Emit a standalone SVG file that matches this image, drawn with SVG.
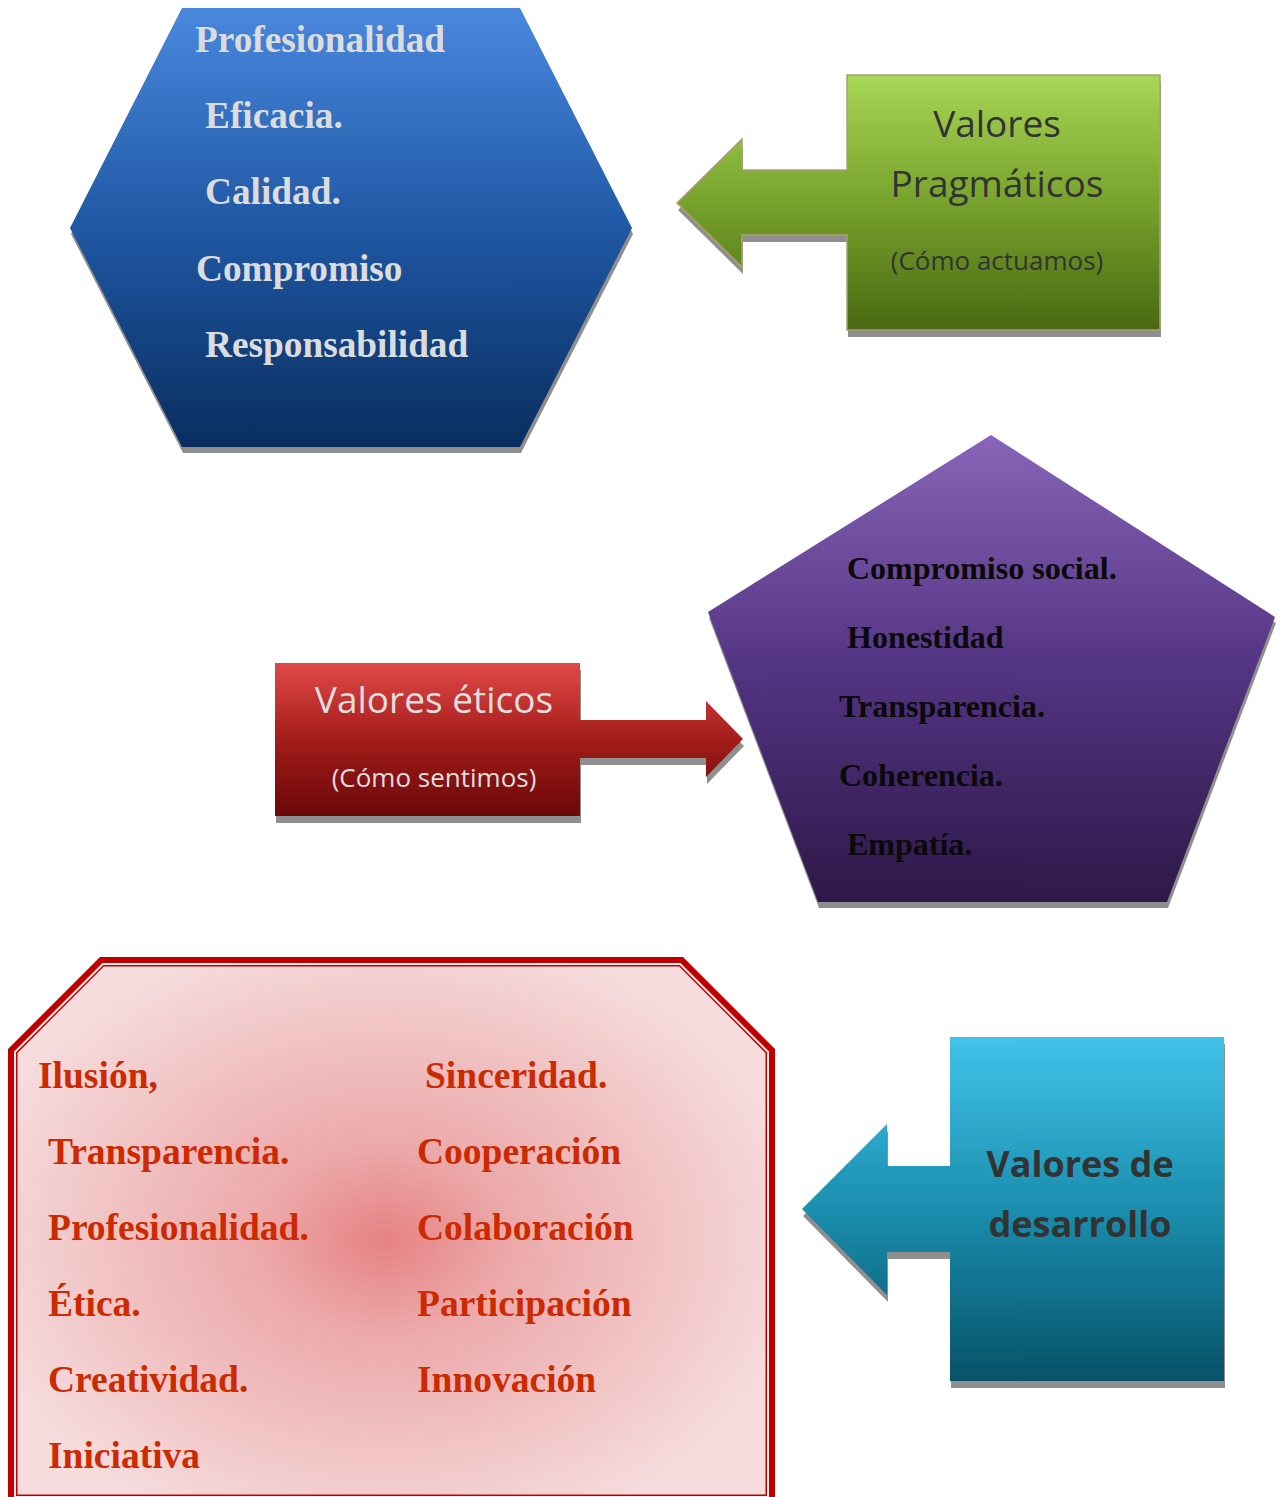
<svg xmlns="http://www.w3.org/2000/svg" xmlns:xlink="http://www.w3.org/1999/xlink" width="1282" height="1497" viewBox="0 0 1282 1497">
<style>
.shadow{fill:#8f8f8f}
.serif{font-family:"Liberation Serif","Times New Roman",serif;font-weight:bold}
.sans{font-family:"Open Sans","Liberation Sans",sans-serif}
.hex-t{fill:#dcdcdc;font-size:37.3px}
.pent-t{fill:#0a0a0a;font-size:32px}
.box-t{fill:#cc2a00;font-size:37.5px}
.dark-t{fill:#333333;text-anchor:middle}
.light-t{fill:#dedede;text-anchor:middle}
</style>
<defs>
<linearGradient id="gBlue" gradientUnits="userSpaceOnUse" x1="0" y1="8" x2="0" y2="447">
<stop offset="0" stop-color="#4a88de"/><stop offset="0.5" stop-color="#1f58a4"/><stop offset="1" stop-color="#0a2d5f"/>
</linearGradient>
<linearGradient id="gGreen" gradientUnits="userSpaceOnUse" x1="0" y1="75" x2="0" y2="330">
<stop offset="0" stop-color="#a8d655"/><stop offset="0.5" stop-color="#77a22c"/><stop offset="1" stop-color="#496912"/>
</linearGradient>
<linearGradient id="gRed" gradientUnits="userSpaceOnUse" x1="0" y1="663" x2="0" y2="816">
<stop offset="0" stop-color="#e04a48"/><stop offset="0.5" stop-color="#a41c1a"/><stop offset="1" stop-color="#6a0808"/>
</linearGradient>
<linearGradient id="gPurple" gradientUnits="userSpaceOnUse" x1="0" y1="435" x2="0" y2="902">
<stop offset="0" stop-color="#8865b8"/><stop offset="0.5" stop-color="#533482"/><stop offset="1" stop-color="#2e1848"/>
</linearGradient>
<linearGradient id="gCyan" gradientUnits="userSpaceOnUse" x1="0" y1="1037" x2="0" y2="1381">
<stop offset="0" stop-color="#42c3ea"/><stop offset="0.5" stop-color="#1a8eae"/><stop offset="1" stop-color="#075268"/>
</linearGradient>
<radialGradient id="gPink" gradientUnits="userSpaceOnUse" cx="385" cy="1240" r="420" gradientTransform="translate(385 1240) scale(1 0.75) translate(-385 -1240)">
<stop offset="0" stop-color="#e68283"/><stop offset="0.3" stop-color="#eca9aa"/><stop offset="0.75" stop-color="#f2c9ca"/><stop offset="1" stop-color="#f6dcdd"/>
</radialGradient>
<path id="hex" d="M182,8 H520 L632,228 L520,447 H182 L70,228 Z"/>
<path id="greenShape" d="M847,75 H1160 V330 H847 V235 H742 V267 L677,203 L742,139 V170 H847 Z"/>
<path id="redShape" d="M275,663 H580 V720 H706 V701 L743,739 L706,777 V758 H580 V816 H275 Z"/>
<path id="pent" d="M991,435 L1275,617 L1167,902 H818 L708,612 Z"/>
<path id="cyanShape" d="M950,1037 H1224 V1381 H950 V1252 H887 V1295 L802,1209 L887,1124 V1166 H950 Z"/>
</defs>

<g id="hexagon-pragmaticos">
<use xlink:href="#hex" href="#hex" class="shadow" transform="translate(1 6)"/>
<use xlink:href="#hex" href="#hex" fill="url(#gBlue)"/>
<text class="serif hex-t" x="195" y="52">Profesionalidad</text>
<text class="serif hex-t" x="205" y="128">Eficacia.</text>
<text class="serif hex-t" x="205" y="204">Calidad.</text>
<text class="serif hex-t" x="196" y="281">Compromiso</text>
<text class="serif hex-t" x="205" y="357">Responsabilidad</text>
</g>

<g id="valores-pragmaticos">
<use xlink:href="#greenShape" href="#greenShape" class="shadow" transform="translate(1 7)"/>
<use xlink:href="#greenShape" href="#greenShape" fill="url(#gGreen)" stroke="#b19d72" stroke-width="1.5"/>
<text class="sans dark-t" x="997" y="137" font-size="37">Valores</text>
<text class="sans dark-t" x="997" y="197" font-size="37">Pragmáticos</text>
<text class="sans dark-t" x="997" y="270" font-size="26">(Cómo actuamos)</text>
</g>

<g id="valores-eticos">
<use xlink:href="#redShape" href="#redShape" class="shadow" transform="translate(1 7)"/>
<use xlink:href="#redShape" href="#redShape" fill="url(#gRed)"/>
<text class="sans light-t" x="434" y="713" font-size="37">Valores éticos</text>
<text class="sans light-t" x="434" y="787" font-size="26">(Cómo sentimos)</text>
</g>

<g id="pentagono-eticos">
<use xlink:href="#pent" href="#pent" class="shadow" transform="translate(1 6)"/>
<use xlink:href="#pent" href="#pent" fill="url(#gPurple)"/>
<text class="serif pent-t" x="847" y="579">Compromiso social.</text>
<text class="serif pent-t" x="847" y="648">Honestidad</text>
<text class="serif pent-t" x="839" y="717">Transparencia.</text>
<text class="serif pent-t" x="839" y="786">Coherencia.</text>
<text class="serif pent-t" x="847" y="855">Empatía.</text>
</g>

<g id="caja-desarrollo">
<polygon points="100,957 683,957 775,1049 775,1510 8,1510 8,1049" fill="#c00000"/>
<polygon points="102.5,963 680.5,963 769,1051.5 769,1498 14,1498 14,1051.5" fill="#fbeeee"/>
<polygon points="103.3,965 679.7,965 767,1052.3 767,1496 16,1496 16,1052.3" fill="#c00000"/>
<polygon points="103.9,966.5 679.1,966.5 765.5,1052.9 765.5,1494.5 17.5,1494.5 17.5,1052.9" fill="url(#gPink)"/>
<text class="serif box-t" x="38" y="1088">Ilusión,</text>
<text class="serif box-t" x="48" y="1164">Transparencia.</text>
<text class="serif box-t" x="48" y="1240">Profesionalidad.</text>
<text class="serif box-t" x="48" y="1316">Ética.</text>
<text class="serif box-t" x="48" y="1392">Creatividad.</text>
<text class="serif box-t" x="48" y="1468">Iniciativa</text>
<text class="serif box-t" x="425" y="1088">Sinceridad.</text>
<text class="serif box-t" x="417" y="1164">Cooperación</text>
<text class="serif box-t" x="417" y="1240">Colaboración</text>
<text class="serif box-t" x="417" y="1316">Participación</text>
<text class="serif box-t" x="417" y="1392">Innovación</text>
</g>

<g id="valores-desarrollo">
<use xlink:href="#cyanShape" href="#cyanShape" class="shadow" transform="translate(1 7)"/>
<use xlink:href="#cyanShape" href="#cyanShape" fill="url(#gCyan)"/>
<text class="sans dark-t" x="1080" y="1177" font-size="36" font-weight="bold">Valores de</text>
<text class="sans dark-t" x="1080" y="1237" font-size="36" font-weight="bold">desarrollo</text>
</g>
</svg>
